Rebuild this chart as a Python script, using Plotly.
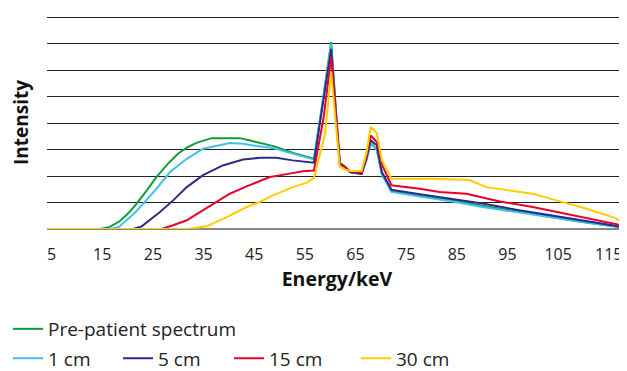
import plotly.graph_objects as go

# ---- data ----
E_pre = [4.1, 14.6, 16.5, 18.5, 20.3, 21.8, 23.8, 25.7, 28.0, 30.0, 31.7, 33.6, 36.6, 42.2, 44.0, 45.5,
         49.0, 52.7, 56.8, 58.6, 60.2, 61.2, 61.9, 62.9, 63.9, 66.2, 67.2, 68.0, 69.2, 70.2, 72.1, 77.7,
         83.6, 90.1, 96.7, 103.3, 109.8, 118.6]
I_pre = [0, 0, 0.08, 0.30, 0.62, 0.96, 1.46, 1.96, 2.47, 2.85, 3.07, 3.25, 3.43, 3.43, 3.35, 3.28,
         3.12, 2.87, 2.65, 4.9, 7.06, 4.3, 2.50, 2.36, 2.15, 2.08, 2.65, 3.25, 3.0, 2.1, 1.42, 1.26,
         1.10, 0.88, 0.66, 0.46, 0.26, 0.03]

E_1cm = [4.1, 16.5, 18.3, 19.8, 21.5, 23.1, 25.7, 28.4, 31.7, 34.9, 38.2, 40.2, 42.8, 45.5, 48.7, 52.6,
         56.8, 58.6, 60.2, 61.2, 61.9, 62.9, 63.9, 66.2, 67.2, 68.0, 69.2, 70.2, 72.1, 77.7, 83.6, 90.1,
         96.7, 103.3, 109.8, 118.6]
I_1cm = [0, 0, 0.08, 0.33, 0.62, 0.96, 1.52, 2.15, 2.65, 3.03, 3.18, 3.25, 3.22, 3.13, 3.06, 2.84,
         2.62, 4.9, 7.0, 4.3, 2.48, 2.35, 2.15, 2.08, 2.6, 3.22, 3.0, 2.05, 1.40, 1.23, 1.06, 0.83,
         0.64, 0.45, 0.26, 0.04]

E_5cm = [4.1, 21.1, 22.8, 24.4, 26.4, 29.0, 31.7, 34.9, 38.8, 42.8, 46.1, 49.4, 52.6, 56.8, 58.6, 60.2,
         61.2, 61.9, 62.9, 63.9, 66.2, 67.2, 68.0, 69.2, 70.2, 72.1, 77.7, 83.6, 90.1, 96.7, 103.3,
         109.8, 118.6]
I_5cm = [0, 0, 0.10, 0.33, 0.64, 1.08, 1.58, 2.03, 2.40, 2.62, 2.69, 2.69, 2.59, 2.50, 4.7, 6.8,
         4.2, 2.47, 2.35, 2.15, 2.08, 2.7, 3.35, 3.16, 2.15, 1.48, 1.31, 1.14, 0.96, 0.73, 0.52,
         0.33, 0.05]

E_15cm = [4.1, 26.7, 29.0, 31.7, 34.3, 37.6, 40.2, 43.5, 48.1, 52.0, 54.6, 56.8, 58.7, 60.2, 61.1,
          61.9, 62.9, 63.9, 66.2, 67.2, 68.0, 69.2, 70.4, 72.1, 77.7, 81.6, 86.9, 93.5, 100.0, 106.6,
          113.2, 118.6]
I_15cm = [0, 0, 0.14, 0.33, 0.64, 1.02, 1.33, 1.61, 1.96, 2.09, 2.18, 2.21, 4.2, 6.49, 4.2,
          2.45, 2.33, 2.18, 2.12, 2.8, 3.53, 3.28, 2.35, 1.65, 1.52, 1.40, 1.33, 1.04, 0.83, 0.58,
          0.33, 0.10]

E_30cm = [4.1, 31.7, 35.6, 39.6, 43.5, 46.1, 48.7, 52.6, 55.3, 56.8, 59.0, 60.2, 61.0, 61.9, 62.9,
          63.9, 66.2, 67.2, 68.0, 69.2, 70.2, 72.1, 80.3, 87.5, 90.8, 96.7, 100.0, 104.6, 109.8,
          115.8, 118.6]
I_30cm = [0, 0, 0.10, 0.45, 0.83, 1.02, 1.27, 1.58, 1.74, 1.92, 3.6, 5.92, 4.2, 2.34, 2.25,
          2.19, 2.19, 2.9, 3.85, 3.62, 2.6, 1.90, 1.90, 1.85, 1.58, 1.43, 1.33, 1.08, 0.81,
          0.45, 0.18]

tick_vals = [5, 15, 25, 35, 45, 55, 65, 75, 85, 95, 105, 115]
tick_text = [str(v) for v in tick_vals]

series = [
    ("Pre-patient spectrum", E_pre, I_pre, "#109a3c", "legend"),
    ("1 cm", E_1cm, I_1cm, "#3fc0ee", "legend2"),
    ("5 cm", E_5cm, I_5cm, "#2b2b88", "legend3"),
    ("15 cm", E_15cm, I_15cm, "#e6002c", "legend4"),
    ("30 cm", E_30cm, I_30cm, "#ffcc00", "legend5"),
]

FONT = "Open Sans"
fig = go.Figure()
for name, x, y, c, lg in series:
    fig.add_trace(go.Scatter(x=x, y=y, mode="lines", name=name,
                             line=dict(color=c, width=2), legend=lg))

# page has an 8px body margin: the figure is offset by 8px
OFF = 8
W, H = 619, 363
L, R, T, B = 39, 0, 8, 142
pw = W - L - R
ph = H - T - B

def lx(px):
    return (px - OFF - L) / pw

def ly(py):
    return (H - B - (py - OFF)) / ph

leg_common = dict(orientation="h", xanchor="left", yanchor="middle",
                  bgcolor="rgba(0,0,0,0)", borderwidth=0, itemwidth=30,
                  font=dict(family=FONT, size=19, color="#222"))

row1, row2 = 329, 358.5
fig.update_layout(
    width=W, height=H,
    margin=dict(l=L, r=R, t=T, b=B, autoexpand=False),
    paper_bgcolor="white", plot_bgcolor="white",
    showlegend=True,
    legend=dict(x=lx(8), y=ly(row1), **leg_common),
    legend2=dict(x=lx(8), y=ly(row2), **leg_common),
    legend3=dict(x=lx(118), y=ly(row2), **leg_common),
    legend4=dict(x=lx(229), y=ly(row2), **leg_common),
    legend5=dict(x=lx(356), y=ly(row2), **leg_common),
    xaxis=dict(range=[4.1, 118.6], tickmode="array", tickvals=tick_vals, ticktext=tick_text,
               showgrid=False, zeroline=False, showline=False, ticks="",
               ticklabelstandoff=14,
               tickfont=dict(family=FONT, size=16, color="#222"),
               title=dict(text="<b>Energy/keV</b>", font=dict(family=FONT, size=19.5, color="#111"),
                          standoff=8)),
    yaxis=dict(range=[0, 8.04], tickmode="array", tickvals=[1, 2, 3, 4, 5, 6, 7, 8],
               showticklabels=False, ticks="",
               showgrid=True, gridcolor="#222", gridwidth=1,
               zeroline=True, zerolinecolor="#888", zerolinewidth=2, showline=False,
               title=dict(text="<b>Intensity</b>", font=dict(family=FONT, size=19, color="#111"),
                          standoff=22)),
)

fig.write_html("out.html")
